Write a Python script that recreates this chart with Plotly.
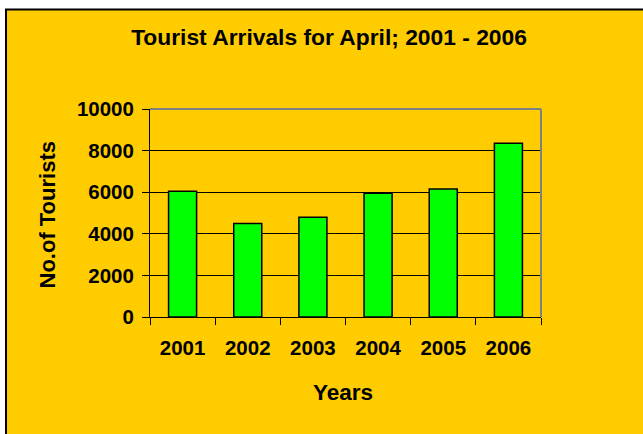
import plotly.graph_objects as go

years = ["2001", "2002", "2003", "2004", "2005", "2006"]
tourists = [6050, 4500, 4800, 5950, 6150, 8350]
y_ticks = [0, 2000, 4000, 6000, 8000, 10000]

FONT = "Liberation Sans, Arial, sans-serif"
W, H = 643, 434
L, R, T, B = 150, 541, 109, 317
pw, ph = R - L, B - T

def px_x(p):
    return (p - L) / pw

def px_y(p):
    return (B - p) / ph

fig = go.Figure(go.Bar(
    x=years, y=tourists, width=0.43,
    marker=dict(color="#00FF00", line=dict(color="black", width=1.5)),
))

fig.update_layout(
    width=W, height=H,
    margin=dict(l=L, r=W - R, t=T, b=H - B, pad=0),
    paper_bgcolor="white",
    plot_bgcolor="#C0C0C0",
    showlegend=False,
    title=dict(text="Tourist Arrivals for April; 2001 - 2006",
               x=329 / W, xanchor="center", y=1 - 37 / H, yanchor="middle",
               font=dict(family=FONT, size=22.8, color="black", weight="bold")),
    font=dict(family=FONT, color="black"),
    shapes=[
        dict(type="rect", xref="paper", yref="paper", layer="below",
             x0=px_x(6), x1=px_x(700), y0=px_y(480), y1=px_y(9.5),
             fillcolor="#FFCC00", line=dict(color="black", width=2)),
        dict(type="line", xref="paper", yref="paper", layer="above",
             x0=0, x1=1, y0=1, y1=1, line=dict(color="#808080", width=2)),
        dict(type="line", xref="paper", yref="paper", layer="above",
             x0=1, x1=1, y0=0, y1=1, line=dict(color="#808080", width=2)),
    ],
    annotations=[
        dict(text="Years", xref="paper", yref="paper",
             x=px_x(343), y=px_y(392), xanchor="center", yanchor="middle",
             showarrow=False, font=dict(family=FONT, size=22.5, weight="bold", color="black")),
        dict(text="No.of Tourists", xref="paper", yref="paper", textangle=-90,
             x=px_x(46.5), y=px_y(215), xanchor="center", yanchor="middle",
             showarrow=False, font=dict(family=FONT, size=22, weight="bold", color="black")),
    ],
)

fig.update_xaxes(
    type="category", tickson="boundaries", ticks="outside", ticklen=7,
    tickcolor="black", showline=True, linecolor="black", linewidth=1,
    showgrid=False, ticklabelstandoff=12,
    tickfont=dict(family=FONT, size=20.5, weight="bold", color="black"),
)
fig.update_yaxes(
    range=[0, 10000], tickvals=y_ticks, tickformat="d", ticks="outside", ticklen=7,
    tickcolor="black", showline=True, linecolor="black", linewidth=1,
    showgrid=True, gridcolor="black", gridwidth=1, zeroline=False,
    ticklabelstandoff=4,
    tickfont=dict(family=FONT, size=20.5, weight="bold", color="black"),
)

fig.write_html("out.html", config={"displayModeBar": False},
               post_script="document.body.style.margin='0';")
